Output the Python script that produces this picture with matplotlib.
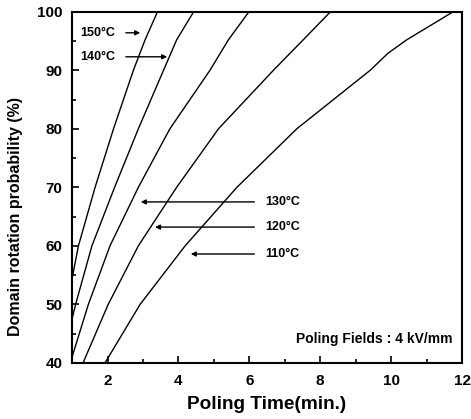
import matplotlib as mpl
mpl.rcParams['font.family'] = ['Liberation Sans', 'DejaVu Sans']
mpl.rcParams['font.weight'] = 'bold'
import matplotlib.pyplot as plt
from matplotlib.ticker import MultipleLocator

# data: poling time (min) vs domain rotation probability (%)
t150 = [1.0, 1.18, 1.65, 2.17, 2.73, 3.06, 3.41]
p150 = [54.4, 60.0, 70.0, 80.0, 90.0, 95.2, 100.0]

t140 = [1.0, 1.1, 1.56, 2.2, 2.87, 3.58, 3.95, 4.43]
p140 = [47.5, 50.0, 60.0, 70.0, 80.0, 90.0, 95.2, 100.0]

t130 = [1.0, 1.46, 2.07, 2.87, 3.76, 4.89, 5.41, 5.99]
p130 = [41.0, 50.0, 60.0, 70.0, 80.0, 90.0, 95.2, 100.0]

t120 = [1.31, 2.02, 2.87, 3.95, 5.13, 6.68, 7.52, 8.29]
p120 = [40.0, 50.0, 60.0, 70.0, 80.0, 90.0, 95.2, 100.0]

t110 = [1.93, 2.92, 4.19, 5.65, 7.34, 9.41, 9.91, 10.44, 11.75]
p110 = [40.0, 50.0, 60.0, 70.0, 80.0, 90.0, 92.9, 95.2, 100.0]

fig = plt.figure(figsize=(4.71, 4.19), dpi=100)
ax = fig.add_axes([0.153, 0.134, 0.828, 0.838])

for t, p in [(t150, p150), (t140, p140), (t130, p130), (t120, p120), (t110, p110)]:
    ax.plot(t, p, color='black', lw=1.0)

# labels with arrows
arr = dict(arrowstyle='-|>', color='black', lw=1.0, mutation_scale=7)
fs = 9
ax.text(1.23, 96.4, '150°C', fontsize=fs, va='center', ha='left')
ax.annotate('', xy=(3.0, 96.4), xytext=(2.44, 96.4), arrowprops=arr)
ax.text(1.23, 92.3, '140°C', fontsize=fs, va='center', ha='left')
ax.annotate('', xy=(3.76, 92.3), xytext=(2.44, 92.3), arrowprops=arr)

ax.text(6.44, 67.5, '130°C', fontsize=fs, va='center', ha='left')
ax.annotate('', xy=(2.86, 67.5), xytext=(6.22, 67.5), arrowprops=arr)
ax.text(6.44, 63.2, '120°C', fontsize=fs, va='center', ha='left')
ax.annotate('', xy=(3.26, 63.2), xytext=(6.22, 63.2), arrowprops=arr)
ax.text(6.44, 58.6, '110°C', fontsize=fs, va='center', ha='left')
ax.annotate('', xy=(4.27, 58.6), xytext=(6.22, 58.6), arrowprops=arr)

ax.text(11.72, 44.1, 'Poling Fields : 4 kV/mm', fontsize=10, va='center', ha='right')

ax.set_xlim(1, 12)
ax.set_ylim(40, 100)
ax.xaxis.set_major_locator(MultipleLocator(2))
ax.xaxis.set_minor_locator(MultipleLocator(1))
ax.yaxis.set_major_locator(MultipleLocator(10))
ax.yaxis.set_minor_locator(MultipleLocator(5))
ax.tick_params(which='both', direction='in', top=False, right=False, labelsize=11, width=1.2)
ax.tick_params(which='major', length=5)
ax.tick_params(which='minor', length=3)
ax.tick_params(axis='y', pad=7)
ax.tick_params(axis='x', pad=8)
for s in ax.spines.values():
    s.set_linewidth(1.5)

ax.set_xlabel('Poling Time(min.)', fontsize=13.7, fontweight='bold', va='center')
ax.xaxis.set_label_coords(0.5, -0.12)
ax.set_ylabel('Domain rotation probability (%)', fontsize=11.5, fontweight='bold', va='center')
ax.yaxis.set_label_coords(-0.144, 0.418)

fig.savefig('out.png', dpi=100)
